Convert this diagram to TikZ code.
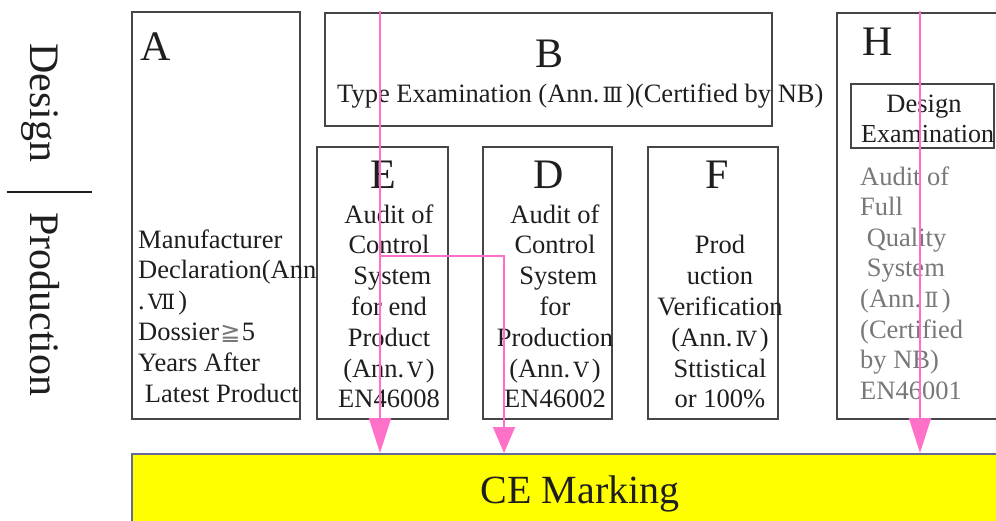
\documentclass[tikz,border=0pt]{standalone}
\usepackage{fontspec}
\setmainfont{Liberation Serif}
\newfontfamily\numfont{DejaVu Serif}
\newfontfamily\symfont{DejaVu Sans}
\usetikzlibrary{arrows.meta}

\definecolor{flow}{RGB}{255,112,200}
\definecolor{ink}{RGB}{30,30,30}
\definecolor{soft}{RGB}{120,120,120}
\definecolor{frame}{RGB}{70,70,70}
\definecolor{mark}{RGB}{255,255,0}
\definecolor{markline}{RGB}{100,105,150}

% Roman numerals and the "at least" sign come from DejaVu
\newcommand\rn[1]{\hspace{0.12em}{\numfont\fontsize{21}{21}\selectfont #1}\hspace{0.12em}}
\newcommand\atleast{\hspace{0.05em}{\symfont\color{soft}\fontsize{24}{24}\selectfont ≧}\hspace{0.05em}}

\begin{document}
\begin{tikzpicture}[x=1pt,y=-1pt,
  panel/.style={draw=frame, line width=1.5pt, anchor=north west, inner sep=0pt},
  letter/.style={font=\fontsize{42}{42}\selectfont, text=ink, inner sep=0pt, anchor=base},
  body/.style={font=\fontsize{26.5}{30}\selectfont, text=ink, inner sep=0pt, anchor=base},
  side/.style={font=\fontsize{42}{42}\selectfont, text=ink, inner sep=0pt, anchor=base west, rotate=-90},
  flowline/.style={draw=flow, line width=2pt},
  bigtip/.style={-{Triangle[length=35pt,width=22pt,fill=flow]}},
  smalltip/.style={-{Triangle[length=26pt,width=22pt,fill=flow]}},
]
\useasboundingbox (0,0) rectangle (996,520);

% side labels
\node[side] (dsg) at (30,43) {Design};
\node[side] (prd) at (30,212) {Production};
\draw[line width=1.2pt, ink] (7,192) -- (92,192);

% panels
\node[panel, minimum width=168pt, minimum height=407pt] (A) at (131,11) {};
\node[panel, minimum width=447pt, minimum height=113pt] (B) at (324,12) {};
\node[panel, minimum width=131pt, minimum height=272pt] (E) at (316,146) {};
\node[panel, minimum width=129pt, minimum height=272pt] (D) at (482,146) {};
\node[panel, minimum width=130pt, minimum height=272pt] (F) at (647,146) {};
\node[panel, minimum width=200pt, minimum height=406pt] (H) at (836,12) {};
\node[panel, minimum width=143pt, minimum height=64pt] (HD) at (850,83) {};
\node[panel, draw=markline, fill=mark, minimum width=900pt, minimum height=90pt] (CE) at (131,453) {};

% A
\node[letter, anchor=base west] (Al) at (140,60) {A};
\foreach \t [count=\i] in {Manufacturer, Declaration(Ann, {.\rn{Ⅶ})}, Dossier\atleast 5, Years After, \ Latest Product}
  \node[body, anchor=base west] (a\i) at (138,{248+30.8*(\i-1)}) {\t};

% B
\node[letter] (Bl) at (550,67) {B};
\node[body, anchor=base west] (b1) at (337,102) {Type Examination (Ann.\rn{Ⅲ})(Certified by NB)};

% E
\node[letter] (El) at (383,188) {E};
\foreach \t [count=\i] in {Audit of, Control, \ System, for end, Product, {(Ann.\rn{Ⅴ})}, EN46008}
  \node[body] (e\i) at (389,{223+30.8*(\i-1)}) {\t};

% D
\node[letter] (Dl) at (549,188) {D};
\foreach \t [count=\i] in {Audit of, Control, \ System, for, Production, {(Ann.\rn{Ⅴ})}, EN46002}
  \node[body] (d\i) at (555,{223+30.8*(\i-1)}) {\t};

% F
\node[letter] (Fl) at (717,188) {F};
\foreach \t [count=\i] in {Prod, uction, Verification, {(Ann.\rn{Ⅳ})}, Sttistical, or 100\%}
  \node[body] (f\i) at (720,{253.8+30.8*(\i-1)}) {\t};

% H
\node[letter, anchor=base west] (Hl) at (862,55) {H};
\node[body] (hd1) at (924,112) {Design};
\node[body, anchor=base west, font=\fontsize{26}{30}\selectfont] (hd2) at (861,142) {Examination};
\foreach \t [count=\i] in {Audit of, Full, \ Quality, \ System, {(Ann.\rn{Ⅱ})}, {(Certified}, {by NB)}, EN46001}
  \node[body, anchor=base west, text=soft] (h\i) at (860,{185+30.6*(\i-1)}) {\t};

% CE marking
\node[font=\fontsize{40}{40}\selectfont, text=ink, inner sep=0pt, anchor=base] (cem) at (580,503) {CE Marking};

% flows
\coordinate (s1) at (380,11);
\coordinate (s2) at (380,256);
\coordinate (k2) at (504,256);
\coordinate (s3) at (920,11);
\draw[flowline, bigtip] (s1) -- (s1 |- CE.north);
\draw[flowline, line width=1.6pt, smalltip] (s2) -- (k2) -- (k2 |- CE.north);
\draw[flowline, bigtip] (s3) -- (s3 |- CE.north);
\end{tikzpicture}
\end{document}
